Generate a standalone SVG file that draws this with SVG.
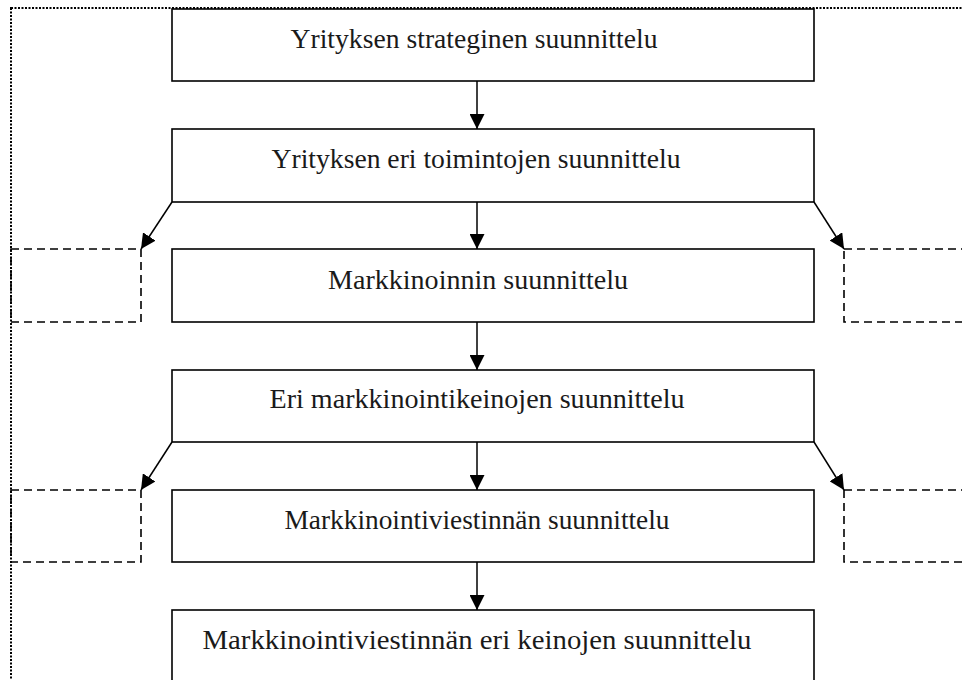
<svg xmlns="http://www.w3.org/2000/svg" width="962" height="680" viewBox="0 0 962 680">
  <style>
    .box { fill: #fff; stroke: #000; stroke-width: 1.6; }
    .side { fill: none; stroke: #000; stroke-width: 1.6; stroke-dasharray: 8 5; }
    .frame { fill: none; stroke: #000; stroke-width: 2; stroke-dasharray: 2 1.5; }
    .link { stroke: #000; stroke-width: 1.5; fill: none; marker-end: url(#head); }
    .label { font-family: "Liberation Serif", "Times New Roman", serif; font-size: 27px; fill: #1a1a1a; text-anchor: middle; }
  </style>
  <defs>
    <marker id="head" viewBox="0 0 10 10" refX="10" refY="5" markerUnits="userSpaceOnUse" markerWidth="15" markerHeight="15" orient="auto">
      <path d="M0,0 L10,5 L0,10 Z" fill="#000"/>
    </marker>
  </defs>
  <rect width="962" height="680" fill="#fff"/>

  <!-- outer dotted frame -->
  <rect class="frame" x="11" y="8" width="970" height="690"/>

  <!-- dashed side boxes -->
  <g id="side-left-1"><rect class="side" x="11" y="249" width="130" height="73"/></g>
  <g id="side-right-1"><rect class="side" x="844" y="249" width="140" height="73"/></g>
  <g id="side-left-2"><rect class="side" x="11" y="490" width="130" height="72"/></g>
  <g id="side-right-2"><rect class="side" x="844" y="490" width="140" height="72"/></g>

  <g id="n1">
    <rect class="box" x="172" y="9" width="642" height="72"/>
    <text class="label" x="474" y="48" textLength="367" lengthAdjust="spacingAndGlyphs">Yrityksen strateginen suunnittelu</text>
  </g>
  <g id="n2">
    <rect class="box" x="172" y="129" width="642" height="73"/>
    <text class="label" x="476" y="168" textLength="409" lengthAdjust="spacingAndGlyphs">Yrityksen eri toimintojen suunnittelu</text>
  </g>
  <g id="n3">
    <rect class="box" x="172" y="249" width="642" height="73"/>
    <text class="label" x="478" y="289" textLength="300" lengthAdjust="spacingAndGlyphs">Markkinoinnin suunnittelu</text>
  </g>
  <g id="n4">
    <rect class="box" x="172" y="370" width="642" height="72"/>
    <text class="label" x="477" y="408" textLength="415" lengthAdjust="spacingAndGlyphs">Eri markkinointikeinojen suunnittelu</text>
  </g>
  <g id="n5">
    <rect class="box" x="172" y="490" width="642" height="72"/>
    <text class="label" x="477" y="529" textLength="385" lengthAdjust="spacingAndGlyphs">Markkinointiviestinnän suunnittelu</text>
  </g>
  <g id="n6">
    <rect class="box" x="172" y="610" width="642" height="80"/>
    <text class="label" x="477" y="649" textLength="549" lengthAdjust="spacingAndGlyphs">Markkinointiviestinnän eri keinojen suunnittelu</text>
  </g>

  <g id="connectors">
    <line class="link" x1="477" y1="81" x2="477" y2="129"/>
    <line class="link" x1="477" y1="202" x2="477" y2="249"/>
    <line class="link" x1="477" y1="322" x2="477" y2="370"/>
    <line class="link" x1="477" y1="442" x2="477" y2="490"/>
    <line class="link" x1="477" y1="562" x2="477" y2="610"/>
    <line class="link" x1="172" y1="202" x2="141" y2="249"/>
    <line class="link" x1="814" y1="202" x2="844" y2="249"/>
    <line class="link" x1="172" y1="442" x2="141" y2="490"/>
    <line class="link" x1="814" y1="442" x2="844" y2="490"/>
  </g>
</svg>
